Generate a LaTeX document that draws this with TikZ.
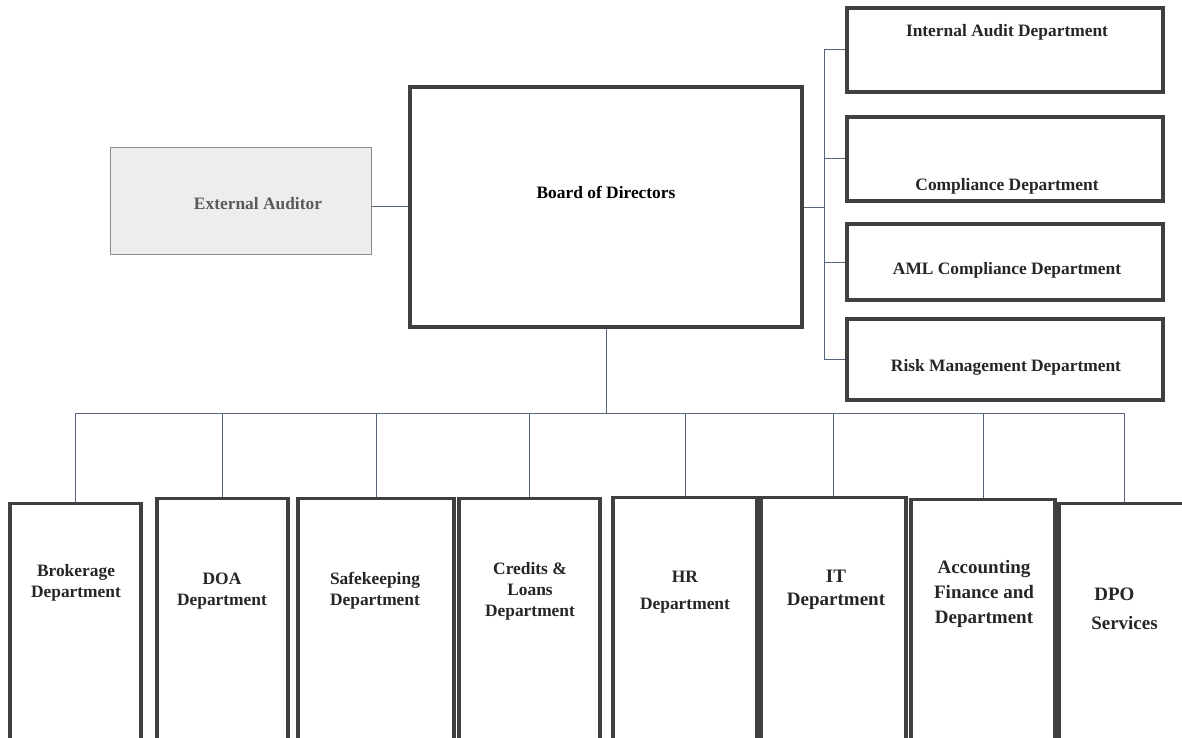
\documentclass[tikz,border=0pt]{standalone}
\usepackage{fontspec}
\setmainfont{Liberation Serif}
\definecolor{boxline}{HTML}{404040}
\definecolor{conn}{HTML}{56657A}
\definecolor{txtc}{HTML}{262626}
\definecolor{eafill}{HTML}{EDEDED}
\definecolor{eaborder}{HTML}{8C8C8C}
\definecolor{eatext}{HTML}{5A5A5A}
\tikzset{
  box/.style={draw=boxline, line width=3.2pt, fill=white, inner sep=0pt},
  wide/.style={box, minimum width=316pt},
  tall/.style={box, anchor=north, minimum height=260pt},
  txt/.style={text=txtc, font=\bfseries\fontsize{17.4}{21}\selectfont, inner sep=0pt, align=center},
  bigtxt/.style={text=txtc, font=\bfseries\fontsize{19}{25}\selectfont, inner sep=0pt, align=center},
  conline/.style={draw=conn, line width=1pt}
}
\begin{document}
\begin{tikzpicture}[x=1pt,y=-1pt]
\useasboundingbox (0,0) rectangle (1182,738);
% top boxes
\node[draw=eaborder, line width=1pt, fill=eafill, minimum width=261pt, minimum height=106pt, inner sep=0pt] (EA) at (240.5,201) {};
\node[box, minimum width=392pt, minimum height=240pt] (BoD) at (606,207) {};
% right boxes
\node[wide, minimum height=84pt] (IA) at (1005,50) {};
\node[wide, minimum height=84pt] (Comp) at (1005,159) {};
\node[wide, minimum height=76pt] (AML) at (1005,262) {};
\node[wide, minimum height=81pt] (Risk) at (1005,359.5) {};
% bottom boxes
\node[tall, minimum width=131pt] (Brok) at (75.5,502) {};
\node[tall, minimum width=131pt] (DOA) at (222.5,497) {};
\node[tall, minimum width=156pt] (Safe) at (376,497) {};
\node[tall, minimum width=141pt] (Cred) at (529.5,497) {};
\node[tall, minimum width=144pt] (HR) at (685,496) {};
\node[tall, minimum width=145pt] (IT) at (833.5,496) {};
\node[tall, minimum width=144pt] (Acct) at (983,498) {};
\node[tall, minimum width=130pt] (DPO) at (1124,502) {};
% texts
\node[txt, text=eatext] (tEA) at (258,204) {External Auditor};
\node[txt, text=black] (tBoD) at (606,192) {Board of Directors};
\node[txt] (tIA) at (1007,32) {Internal Audit Department};
\node[txt] (tComp) at (1007,186) {Compliance Department};
\node[txt] (tAML) at (1007,270) {AML Compliance Department};
\node[txt] (tRisk) at (1006,367) {Risk Management Department};
\node[txt] (tBrok) at (76,583) {Brokerage\\Department};
\node[txt] (tDOA) at (222,591) {DOA\\Department};
\node[txt] (tSafe) at (375,591) {Safekeeping\\Department};
\node[txt] (tCred) at (530,591) {Credits \&\\Loans\\Department};
\node[txt, font=\bfseries\fontsize{17.4}{27}\selectfont] (tHR) at (685,592) {HR\\Department};
\node[bigtxt, font=\bfseries\fontsize{19}{23}\selectfont] (tIT) at (836,590) {IT\\Department};
\node[bigtxt] (tAcct) at (984,594) {Accounting\\Finance and\\Department};
\node[bigtxt, align=left, font=\bfseries\fontsize{19}{29}\selectfont] (tDPO) at (1124.5,609) {\hspace*{3pt}DPO\\Services};
% connectors
\coordinate (rbus) at (824,207);
\coordinate (bbus) at (606,413);
\draw[conline] ([yshift=-5pt]EA.east) -- ([yshift=-5pt]EA.east -| BoD.west);
\draw[conline] (BoD.east) -- (rbus);
\draw[conline] (IA.west) -- (IA.west -| rbus) -- (Risk.west -| rbus) -- (Risk.west);
\draw[conline] (Comp.west) -- (Comp.west -| rbus);
\draw[conline] (AML.west) -- (AML.west -| rbus);
\draw[conline] (BoD.south) -- (bbus);
\draw[conline] (Brok.north) -- (Brok.north |- bbus) -- (DPO.north |- bbus) -- (DPO.north);
\foreach \n in {DOA,Safe,Cred,HR,IT,Acct}{
  \draw[conline] (\n.north) -- (\n.north |- bbus);
}
\end{tikzpicture}
\end{document}
